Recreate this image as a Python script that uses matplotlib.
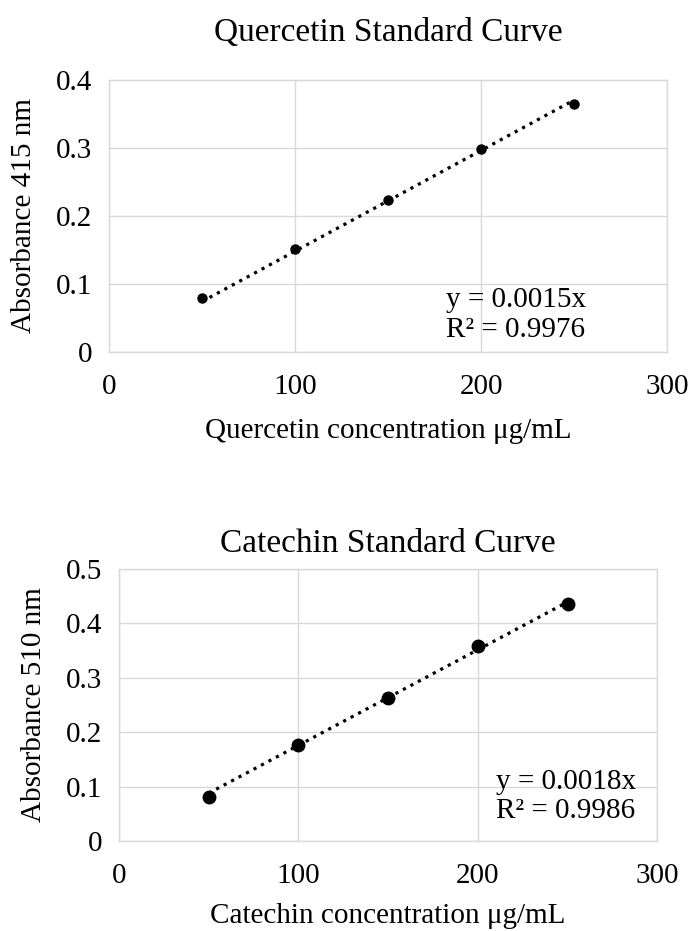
import matplotlib
matplotlib.use("Agg")
import matplotlib.pyplot as plt
import numpy as np

plt.rcParams['font.family'] = ['Liberation Serif', 'DejaVu Serif']

# Quercetin standard
q_conc = [50, 100, 150, 200, 250]
q_abs = [0.080, 0.152, 0.224, 0.299, 0.365]
q_eq = ["y = 0.0015x", "R\u00b2 = 0.9976"]

# Catechin standard
c_conc = [50, 100, 150, 200, 250]
c_abs = [0.080, 0.177, 0.263, 0.358, 0.436]
c_eq = ["y = 0.0018x", "R\u00b2 = 0.9986"]

grid_col = '#d9d9d9'


def std_curve(ax, x, y, title, ylabel, xlabel, ymax, eq, eq_pos, msize, tpad, xpad):
    x = np.array(x, dtype=float)
    y = np.array(y, dtype=float)
    # linear fit forced through the origin (excel style trendline)
    slope = np.sum(x * y) / np.sum(x * x)
    ax.plot(x, slope * x, ':', color='black', lw=2.3)
    ax.plot(x, y, 'o', color='black', ms=msize, zorder=3)
    ax.set_xlim(0, 300)
    ax.set_ylim(0, ymax)
    ax.set_xticks([0, 100, 200, 300])
    ax.set_yticks(np.arange(0, ymax + 0.001, 0.1))
    ax.set_yticklabels(['0'] + ['%.1f' % v for v in np.arange(0.1, ymax + 0.001, 0.1)])
    ax.grid(True, color=grid_col, lw=1)
    ax.set_axisbelow(True)
    for s in ax.spines.values():
        s.set_color(grid_col)
        s.set_linewidth(1)
    ax.tick_params(length=0, labelsize=21, pad=12)
    ax.tick_params(axis='x', pad=16)
    ax.set_title(title, fontsize=24, pad=tpad)
    ax.set_ylabel(ylabel, fontsize=21, labelpad=14)
    ax.set_xlabel(xlabel, fontsize=21, labelpad=xpad)
    # equation + r squared, two lines
    ex, ey1, ey2 = eq_pos
    ax.text(ex, ey1, eq[0], fontsize=21, va='baseline', ha='left')
    ax.text(ex, ey2, eq[1], fontsize=21, va='baseline', ha='left')


fig = plt.figure(figsize=(6.9, 9.31), dpi=100)
ax1 = fig.add_axes([0.158, 0.622, 0.809, 0.292])
ax2 = fig.add_axes([0.1725, 0.0967, 0.780, 0.292])

std_curve(ax1, q_conc, q_abs, 'Quercetin Standard Curve', 'Absorbance 415 nm',
          'Quercetin concentration \u03bcg/mL', 0.4, q_eq, (181, 0.066, 0.022), 6.5, 28, 13)
std_curve(ax2, c_conc, c_abs, 'Catechin Standard Curve', 'Absorbance 510 nm',
          'Catechin concentration \u03bcg/mL', 0.5, c_eq, (210, 0.0956, 0.042), 9, 12, 10)

fig.savefig('out.png', dpi=100)
